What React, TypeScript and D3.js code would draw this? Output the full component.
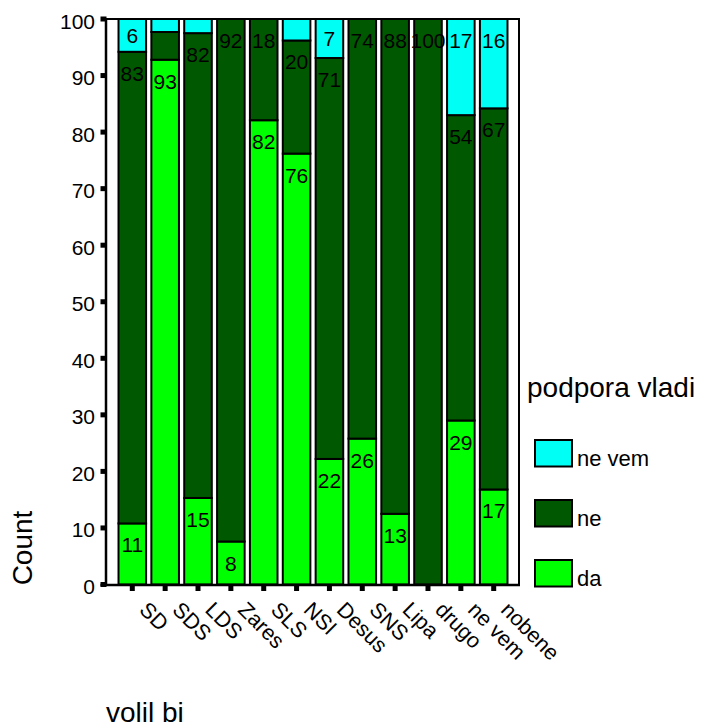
import React from 'react';
import * as d3 from 'd3';

const categories = ['SD', 'SDS', 'LDS', 'Zares', 'SLS', 'NSI', 'Desus', 'SNS', 'Lipa', 'drugo', 'ne vem', 'nobene'];
// percentages per party (stacked: da at bottom, ne, ne vem on top)
const da = [10.8, 92.8, 15.3, 7.6, 82.1, 76.2, 22.2, 25.8, 12.5, 0, 29.0, 16.8];
const ne = [83.4, 4.9, 82.2, 92.4, 17.9, 20.0, 70.9, 74.2, 87.5, 100, 54.0, 67.4];
const neVem = [5.8, 2.3, 2.5, 0, 0, 3.8, 6.9, 0, 0, 0, 17.0, 15.8];
const yTicks = [0, 10, 20, 30, 40, 50, 60, 70, 80, 90, 100];

const seriesKeys = ['da', 'ne', 'neVem'];
const seriesColor: Record<string, string> = { da: '#00ff00', ne: '#005800', neVem: '#00fff4' };
const legendItems = [
  { key: 'neVem', label: 'ne vem' },
  { key: 'ne', label: 'ne' },
  { key: 'da', label: 'da' },
];

const FONT = '"Liberation Sans", Arial, sans-serif';

const App: React.FC = () => {
  const width = 702;
  const height = 727;

  const rows = categories.map((c, i) => ({ cat: c, da: da[i], ne: ne[i], neVem: neVem[i] }));
  const stacked = d3.stack<any>().keys(seriesKeys)(rows);

  const x = d3.scaleBand<string>()
    .domain(categories)
    .range([107, 519])
    .paddingInner(0.1)
    .paddingOuter(0.32);

  const y = d3.scaleLinear().domain([0, 100]).range([584.5, 19]);

  return (
    <svg width={width} height={height} style={{ position: 'absolute', left: 0, top: 0, display: 'block' }} fontFamily={FONT}>
      <rect x={0} y={0} width={width} height={height} fill="#fff" />

      {/* frame */}
      <line x1={106} x2={519} y1={19} y2={19} stroke="#000" strokeWidth={2} />
      <line x1={519} x2={519} y1={18} y2={585} stroke="#000" strokeWidth={2} />

      {/* bars */}
      {stacked.map(layer => (
        <g key={layer.key}>
          {layer.map((d, i) => {
            const v = d[1] - d[0];
            if (v <= 0) return null;
            const bx = x(categories[i])!;
            const bw = x.bandwidth();
            const top = y(d[1]);
            const bottom = y(d[0]);
            const h = bottom - top;
            const off = Math.min(29, h / 2 + 7.5);
            return (
              <g key={i}>
                <rect x={bx + 1} y={top} width={bw - 2} height={h}
                  fill={seriesColor[layer.key]} stroke="#000" strokeWidth={2} />
                {v >= 5.5 && (
                  <text x={bx + bw / 2} y={top + off} textAnchor="middle" fontSize={21} fill="#000">
                    {Math.round(v)}
                  </text>
                )}
              </g>
            );
          })}
        </g>
      ))}

      {/* y axis */}
      <line x1={106} x2={106} y1={18} y2={586} stroke="#000" strokeWidth={2.5} />
      {yTicks.map(t => (
        <g key={t}>
          <rect x={100.5} y={y(t) - 2.5} width={6} height={5} fill="#000" />
          <text x={95} y={y(t) + 9.5} textAnchor="end" fontSize={21} fill="#000">{t}</text>
        </g>
      ))}

      {/* x axis */}
      <line x1={100.5} x2={520} y1={585} y2={585} stroke="#000" strokeWidth={2.7} />
      {categories.map(c => {
        const cx = x(c)! + x.bandwidth() / 2;
        return (
          <g key={c}>
            <rect x={cx - 2.5} y={586} width={5} height={5} fill="#000" />
            <text transform={`translate(${cx + 6},${611}) rotate(45)`} fontSize={21.5} fill="#000">{c}</text>
          </g>
        );
      })}

      {/* axis titles */}
      <text transform="translate(32,548) rotate(-90)" textAnchor="middle" fontSize={28} fill="#000">Count</text>
      <text x={106} y={721.5} fontSize={28} fill="#000">volil bi</text>

      {/* legend */}
      <text x={527} y={397} fontSize={28} fill="#000">podpora vladi</text>
      {legendItems.map((it, i) => (
        <g key={it.key}>
          <rect x={535} y={440 + i * 60} width={37} height={26.5}
            fill={seriesColor[it.key]} stroke="#000" strokeWidth={2} />
          <text x={577} y={466 + i * 60} fontSize={22} fill="#000">{it.label}</text>
        </g>
      ))}
    </svg>
  );
};

export default App;
